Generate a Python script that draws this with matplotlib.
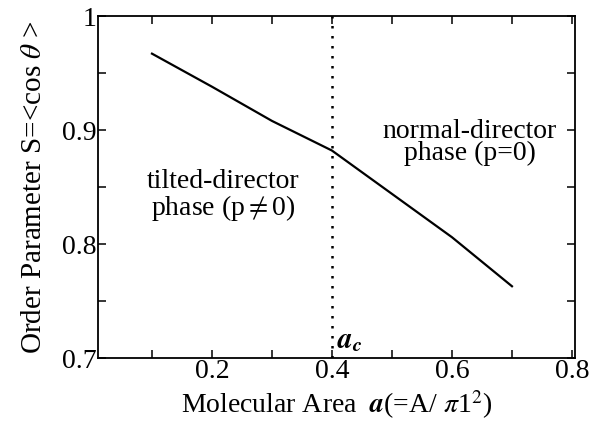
import matplotlib
matplotlib.use("Agg")
import matplotlib.pyplot as plt
from matplotlib.ticker import MultipleLocator

plt.rcParams["font.family"] = ["Liberation Serif", "DejaVu Serif"]
plt.rcParams["mathtext.fontset"] = "stix"

# molecular area a and order parameter S
area = [0.1, 0.2, 0.3, 0.4, 0.5, 0.6, 0.7]
order_param = [0.967, 0.938, 0.908, 0.882, 0.844, 0.806, 0.763]
a_crit = 0.4

fig = plt.figure(figsize=(6.03, 4.33), dpi=100)
ax = fig.add_axes([0.1625, 0.173, 0.791, 0.79])

ax.plot(area, order_param, color="black", lw=1.6)
ax.axvline(a_crit, color="black", lw=1.8, linestyle=(0, (1, 3.0)))

ax.set_xlim(0.01, 0.805)
ax.set_ylim(0.7, 1.0)
ax.xaxis.set_major_locator(MultipleLocator(0.2))
ax.xaxis.set_minor_locator(MultipleLocator(0.1))
ax.yaxis.set_major_locator(MultipleLocator(0.1))
ax.yaxis.set_minor_locator(MultipleLocator(0.05))
ax.set_yticks([0.7, 0.8, 0.9, 1.0], ["0.7", "0.8", "0.9", "1"])
ax.tick_params(which="both", direction="in", top=True, right=True,
               length=6, width=1.1, labelsize=20, pad=1)
for s in ax.spines.values():
    s.set_linewidth(1.3)

ax.set_xlabel(r"Molecular Area  $\boldsymbol{a}$(=A/ $\pi$1$^2$)", fontsize=20, labelpad=3)
ax.set_ylabel(r"Order Parameter S=<cos $\theta$ >", fontsize=21, labelpad=11)

ax.text(0.218, 0.842, "tilted-director\nphase (p$\\neq$0)", fontsize=20,
        ha="center", va="center", linespacing=0.95)
ax.text(0.63, 0.889, "normal-director\nphase (p=0)", fontsize=20,
        ha="center", va="center", linespacing=0.8)
ax.text(0.408, 0.709, r"$\boldsymbol{a}_{\boldsymbol{c}}$", fontsize=21, ha="left", va="baseline")

fig.savefig("out.png", dpi=100)
